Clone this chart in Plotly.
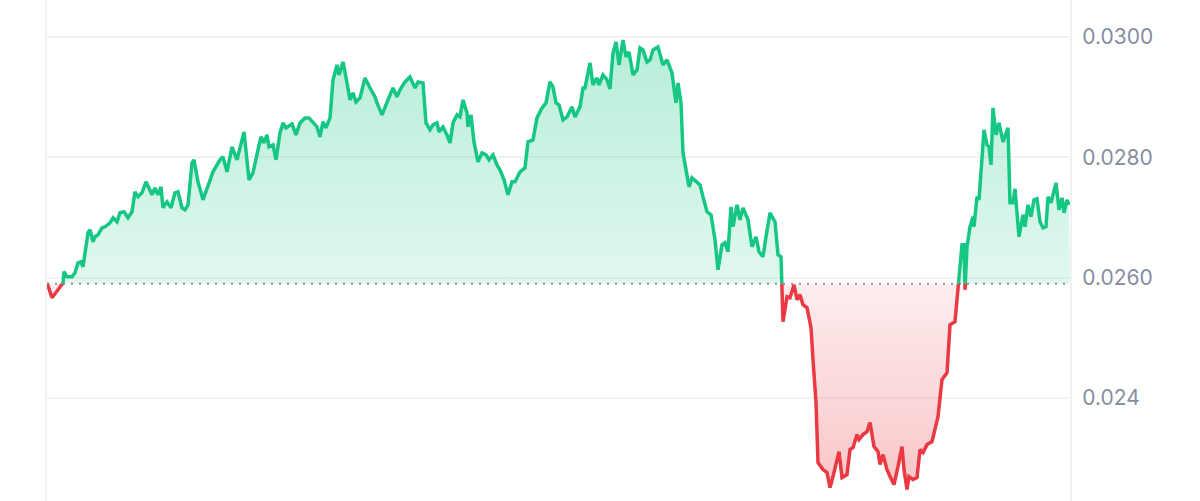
import plotly.graph_objects as go

# time position (arbitrary units across the window) and price
t = [0, 5, 11, 16, 17, 20, 25, 28, 31, 34, 36, 41, 43, 46, 48, 51, 55, 58, 63, 66,
     70, 73, 77, 81, 85, 88, 91, 95, 99, 102, 105, 108, 111, 114, 116, 120, 124, 128, 131, 135,
     138, 141, 145, 147, 151, 156, 161, 166, 173, 176, 180, 185, 190, 193, 197, 202, 206, 211, 214, 217,
     220, 222, 226, 229, 233, 236, 239, 245, 249, 253, 258, 262, 266, 270, 273, 276, 279, 283, 286, 290,
     292, 296, 300, 303, 306, 309, 313, 318, 323, 328, 330, 335, 341, 346, 350, 353, 358, 363, 368, 371,
     376, 379, 383, 386, 390, 392, 396, 400, 403, 406, 410, 413, 416, 420, 421, 424, 427, 431, 435, 439,
     442, 446, 450, 453, 457, 461, 465, 468, 473, 478, 481, 486, 490, 495, 499, 503, 506, 509, 512, 516,
     520, 525, 528, 533, 536, 538, 543, 546, 550, 552, 556, 560, 563, 566, 569, 572, 576, 579, 582, 586,
     590, 593, 596, 600, 603, 606, 611, 616, 620, 625, 629, 631, 634, 636, 639, 642, 645, 650, 653, 656,
     660, 664, 668, 671, 675, 678, 681, 684, 686, 690, 693, 696, 701, 705, 709, 712, 716, 719, 723, 728,
     731, 734, 736, 740, 743, 747, 750, 753, 756, 760, 764, 766, 769, 771, 776, 780, 783, 786, 789, 792,
     795, 800, 803, 806, 810, 812, 816, 820, 823, 827, 831, 833, 836, 840, 843, 847, 851, 855, 857, 860,
     862, 866, 870, 873, 876, 880, 885, 888, 891, 895, 900, 903, 908, 915, 917, 918, 920, 923, 926, 927,
     930, 932, 935, 937, 940, 942, 944, 946, 949, 952, 956, 958, 961, 963, 966, 968, 972, 976, 978, 981,
     984, 987, 990, 993, 996, 999, 1001, 1004, 1009, 1012, 1015, 1017, 1020, 1022]

price = [0.025916, 0.025667, 0.025800, 0.025916, 0.026099, 0.026016, 0.026016, 0.026082, 0.026248, 0.026265,
         0.026182, 0.026746, 0.026796, 0.026597, 0.026680, 0.026713, 0.026829, 0.026846, 0.026912, 0.026995,
         0.026929, 0.027078, 0.027095, 0.026995, 0.027095, 0.027427, 0.027344, 0.027410, 0.027593, 0.027493,
         0.027377, 0.027493, 0.027377, 0.027510, 0.027161, 0.027261, 0.027161, 0.027410, 0.027427, 0.027161,
         0.027128, 0.027211, 0.027908, 0.027958, 0.027593, 0.027294, 0.027510, 0.027759, 0.027958, 0.028008,
         0.027759, 0.028174, 0.027958, 0.028174, 0.028423, 0.027626, 0.027742, 0.028124, 0.028340, 0.028240,
         0.028373, 0.028174, 0.028207, 0.027958, 0.028406, 0.028572, 0.028489, 0.028556, 0.028373, 0.028572,
         0.028655, 0.028655, 0.028572, 0.028506, 0.028340, 0.028589, 0.028489, 0.028655, 0.029286, 0.029535,
         0.029369, 0.029585, 0.029236, 0.028954, 0.029070, 0.028921, 0.028987, 0.029319, 0.029153, 0.029004,
         0.028904, 0.028705, 0.028954, 0.029153, 0.029004, 0.029120, 0.029253, 0.029336, 0.029153, 0.029253,
         0.029236, 0.028572, 0.028456, 0.028539, 0.028572, 0.028423, 0.028506, 0.028373, 0.028240, 0.028572,
         0.028705, 0.028672, 0.028954, 0.028738, 0.028506, 0.028705, 0.028257, 0.027925, 0.028074, 0.028041,
         0.027958, 0.028041, 0.027875, 0.027792, 0.027626, 0.027377, 0.027593, 0.027593, 0.027759, 0.027825,
         0.028257, 0.028290, 0.028655, 0.028821, 0.028904, 0.029253, 0.029170, 0.028904, 0.028871, 0.028622,
         0.028672, 0.028838, 0.028672, 0.028838, 0.029153, 0.029153, 0.029568, 0.029203, 0.029319, 0.029203,
         0.029369, 0.029286, 0.029137, 0.029734, 0.029917, 0.029535, 0.029950, 0.029668, 0.029751, 0.029369,
         0.029452, 0.029817, 0.029784, 0.029585, 0.029618, 0.029784, 0.029834, 0.029535, 0.029618, 0.029402,
         0.028904, 0.029236, 0.028904, 0.028074, 0.027792, 0.027510, 0.027659, 0.027593, 0.027543, 0.027344,
         0.027095, 0.027045, 0.026630, 0.026132, 0.026547, 0.026580, 0.026431, 0.027178, 0.026846, 0.027211,
         0.026962, 0.027161, 0.026962, 0.026514, 0.026680, 0.026431, 0.026348, 0.026680, 0.027078, 0.026929,
         0.026381, 0.026348, 0.025269, 0.025684, 0.025667, 0.025883, 0.025634, 0.025717, 0.025551, 0.025501,
         0.025169, 0.024638, 0.023924, 0.022928, 0.022812, 0.022762, 0.022513, 0.022696, 0.022928, 0.023111,
         0.022679, 0.022729, 0.023144, 0.023177, 0.023393, 0.023310, 0.023393, 0.023443, 0.023592, 0.023194,
         0.023111, 0.022895, 0.023061, 0.022812, 0.022696, 0.022563, 0.022862, 0.023194, 0.022812, 0.022480,
         0.022696, 0.022646, 0.022679, 0.023144, 0.023094, 0.023227, 0.023277, 0.023509, 0.023692, 0.024306,
         0.024422, 0.025219, 0.025269, 0.026547, 0.026547, 0.025800, 0.026514, 0.026846, 0.027012, 0.026846,
         0.027344, 0.027294, 0.027908, 0.028456, 0.028207, 0.028174, 0.027875, 0.028821, 0.028373, 0.028572,
         0.028257, 0.028340, 0.028489, 0.027244, 0.027244, 0.027477, 0.026680, 0.027045, 0.026846, 0.027211,
         0.027012, 0.027294, 0.027311, 0.026929, 0.026829, 0.026846, 0.027344, 0.027244, 0.027576, 0.027128,
         0.027327, 0.027078, 0.027294, 0.027211]

assert len(t) == len(price), (len(t), len(price))

base_price = 0.02590          # reference (open) price, dotted line
y_min, y_max = 0.02229, 0.030614
tick_vals = [0.024, 0.026, 0.028, 0.030]
tick_text = ["0.024", "0.0260", "0.0280", "0.0300"]
x_min, x_max = 0, 1023

GREEN = "#16c784"
RED = "#ea3943"

split = (base_price - y_min) / (y_max - y_min)

fig = go.Figure()

# dotted baseline on the main axes
fig.add_trace(go.Scatter(
    x=[x_min, x_max], y=[base_price, base_price], mode="lines",
    line=dict(color="#8b93a5", width=2, dash="2px,6px"),
    hoverinfo="skip", showlegend=False, xaxis="x", yaxis="y"))

# upper (green) part: clipped to the region above the baseline
fig.add_trace(go.Scatter(
    x=[x_min, x_max], y=[base_price, base_price], mode="lines",
    line=dict(width=0, color="rgba(0,0,0,0)"), hoverinfo="skip",
    showlegend=False, xaxis="x", yaxis="y2"))
fig.add_trace(go.Scatter(
    x=t, y=price, mode="lines", line=dict(color=GREEN, width=3.5),
    fill="tonexty",
    fillgradient=dict(type="vertical",
                      colorscale=[[0, "rgba(22,199,132,0.13)"], [1, "rgba(22,199,132,0.34)"]],
                      start=base_price, stop=y_max),
    hoverinfo="skip", showlegend=False, xaxis="x", yaxis="y2"))

# lower (red) part: clipped to the region below the baseline
fig.add_trace(go.Scatter(
    x=[x_min, x_max], y=[base_price, base_price], mode="lines",
    line=dict(width=0, color="rgba(0,0,0,0)"), hoverinfo="skip",
    showlegend=False, xaxis="x", yaxis="y3"))
fig.add_trace(go.Scatter(
    x=t, y=price, mode="lines", line=dict(color=RED, width=3.5),
    fill="tonexty",
    fillgradient=dict(type="vertical",
                      colorscale=[[0, "rgba(234,57,67,0.30)"], [1, "rgba(234,57,67,0.09)"]],
                      start=y_min, stop=base_price),
    hoverinfo="skip", showlegend=False, xaxis="x", yaxis="y3"))

fig.update_layout(
    width=1200, height=501,
    margin=dict(l=47, r=130, t=0, b=0),
    paper_bgcolor="white", plot_bgcolor="rgba(0,0,0,0)",
    showlegend=False,
    xaxis=dict(range=[x_min, x_max], visible=False, anchor="y", fixedrange=True),
    yaxis=dict(domain=[0, 1], range=[y_min, y_max], side="right", anchor="x",
               tickvals=tick_vals, ticktext=tick_text,
               showgrid=True, gridcolor="#f1f2f4", gridwidth=2,
               zeroline=False, showline=True, mirror=True,
               linecolor="#eff1f3", linewidth=2,
               ticks="", ticklabelstandoff=6,
               tickfont=dict(family="Inter", size=21, color="#858ea0")),
    yaxis2=dict(domain=[split, 1], range=[base_price, y_max], anchor="x",
                visible=False, showgrid=False, zeroline=False),
    yaxis3=dict(domain=[0, split], range=[y_min, base_price], anchor="x",
                visible=False, showgrid=False, zeroline=False),
)

fig.write_html("out.html",
               config={"displayModeBar": False},
               post_script="document.body.style.margin='0';document.body.style.padding='0';")
